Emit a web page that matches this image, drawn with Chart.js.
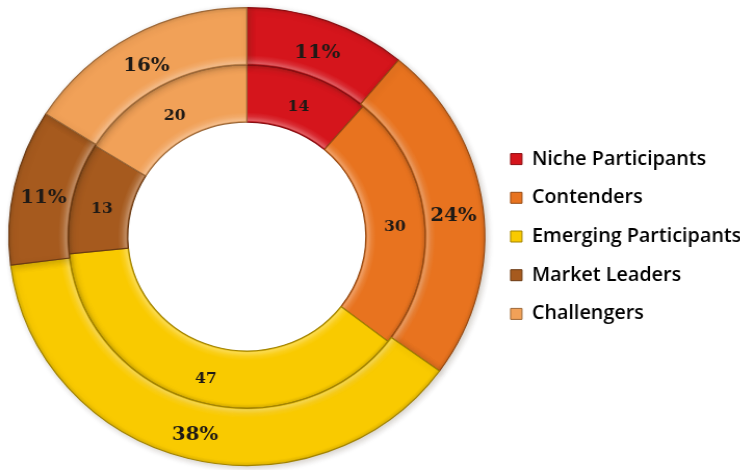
<!DOCTYPE html>
<html>
<head>
<meta charset="utf-8">
<script src="https://cdn.jsdelivr.net/npm/chart.js@4.4.1/dist/chart.umd.min.js"></script>
<style>
  html, body { margin: 0; padding: 0; background: #fff; overflow: hidden; }
  /* the chart is drawn on a narrower canvas and widened, so the rings come out as wide ovals */
  #wrap { width: 712px; height: 470px; transform: scaleX(1.04); transform-origin: 0 0; }
</style>
</head>
<body>
<div id="wrap"><canvas id="ringChart" width="712" height="470"></canvas></div>
<script>
const segments = ["Niche Participants", "Contenders", "Emerging Participants", "Market Leaders", "Challengers"];
const sharePct = [11, 24, 38, 11, 16];   // outer ring (%)
const counts = [14, 30, 47, 13, 20];     // inner ring (count)
const colors = ["#d5151c", "#e8731f", "#f9ca00", "#a65a1e", "#f1a158"];

// mix a hex colour toward white (amt > 0) or black (amt < 0)
function shade(hex, amt) {
  const n = parseInt(hex.slice(1), 16);
  const t = amt < 0 ? 0 : 255, p = Math.abs(amt);
  const mix = v => Math.round((t - v) * p + v);
  return `rgb(${mix(n >> 16)},${mix((n >> 8) & 255)},${mix(n & 255)})`;
}

// radial gradient across one ring: light rim on the inside, darker on the outside
function ringFill(c) {
  const base = colors[c.dataIndex];
  const chart = c.chart, area = chart.chartArea;
  if (!area || c.type !== "data") return base;
  const ctrl = chart.getDatasetMeta(c.datasetIndex).controller;
  const rIn = ctrl.innerRadius, rOut = ctrl.outerRadius;
  if (!rOut) return base;
  const cx = (area.left + area.right) / 2, cy = (area.top + area.bottom) / 2;
  const g = chart.ctx.createRadialGradient(cx, cy, rIn, cx, cy, rOut);
  g.addColorStop(0, shade(base, -0.1));
  g.addColorStop(0.03, shade(base, 0.3));
  g.addColorStop(0.1, shade(base, 0.1));
  g.addColorStop(0.17, base);
  g.addColorStop(0.93, base);
  g.addColorStop(1, shade(base, -0.1));
  return g;
}

function ringEdge(c) {
  return shade(colors[c.dataIndex], -0.35);
}

function labelFor(di, i) {
  return di === 0 ? sharePct[i] + "%" : String(counts[i]);
}

// soft drop shadow under the outer ring
const ringShadow = {
  id: "ringShadow",
  beforeDatasetDraw(chart, args) {
    if (args.index !== 0) return;
    const ctx = chart.ctx;
    ctx.shadowColor = "rgba(60,40,20,0.22)";
    ctx.shadowBlur = 6;
    ctx.shadowOffsetX = 2;
    ctx.shadowOffsetY = 2;
  },
  afterDatasetDraw(chart, args) {
    if (args.index !== 0) return;
    const ctx = chart.ctx;
    ctx.shadowColor = "rgba(0,0,0,0)";
    ctx.shadowBlur = 0;
    ctx.shadowOffsetX = 0;
    ctx.shadowOffsetY = 0;
  }
};

// value labels sit a little below each segment's centre
const ringLabels = {
  id: "ringLabels",
  afterDatasetsDraw(chart) {
    const ctx = chart.ctx;
    ctx.save();
    ctx.textAlign = "center";
    ctx.textBaseline = "middle";
    ctx.fillStyle = "#1f1a16";
    chart.data.datasets.forEach((ds, di) => {
      ctx.font = di === 0 ? "bold 19px 'DejaVu Serif'" : "bold 15px 'DejaVu Serif'";
      chart.getDatasetMeta(di).data.forEach((arc, i) => {
        const p = arc.tooltipPosition();
        ctx.fillText(labelFor(di, i), p.x, p.y + 5);
      });
    });
    ctx.restore();
  }
};

new Chart(document.getElementById("ringChart"), {
  type: "doughnut",
  data: {
    labels: segments,
    datasets: [
      { label: "Share", data: sharePct, backgroundColor: ringFill, borderColor: ringEdge, borderWidth: 1.2 },
      { label: "Count", data: counts, backgroundColor: ringFill, borderColor: ringEdge, borderWidth: 1.2 }
    ]
  },
  options: {
    responsive: false,
    animation: false,
    cutout: "50%",
    layout: { padding: { left: 3.4, right: -10.8, top: 7, bottom: 4 } },
    plugins: {
      tooltip: { enabled: false },
      legend: {
        position: "right",
        align: "center",
        labels: {
          boxWidth: 11,
          boxHeight: 11,
          padding: 19.7,
          color: "#2e2e2e",
          font: { family: "'Open Sans'", size: 19, weight: "600" },
          generateLabels: () => segments.map((s, i) => ({
            text: s,
            fillStyle: colors[i],
            strokeStyle: shade(colors[i], -0.35),
            lineWidth: 1,
            index: i
          }))
        }
      }
    }
  },
  plugins: [ringShadow, ringLabels]
});
</script>
</body>
</html>
